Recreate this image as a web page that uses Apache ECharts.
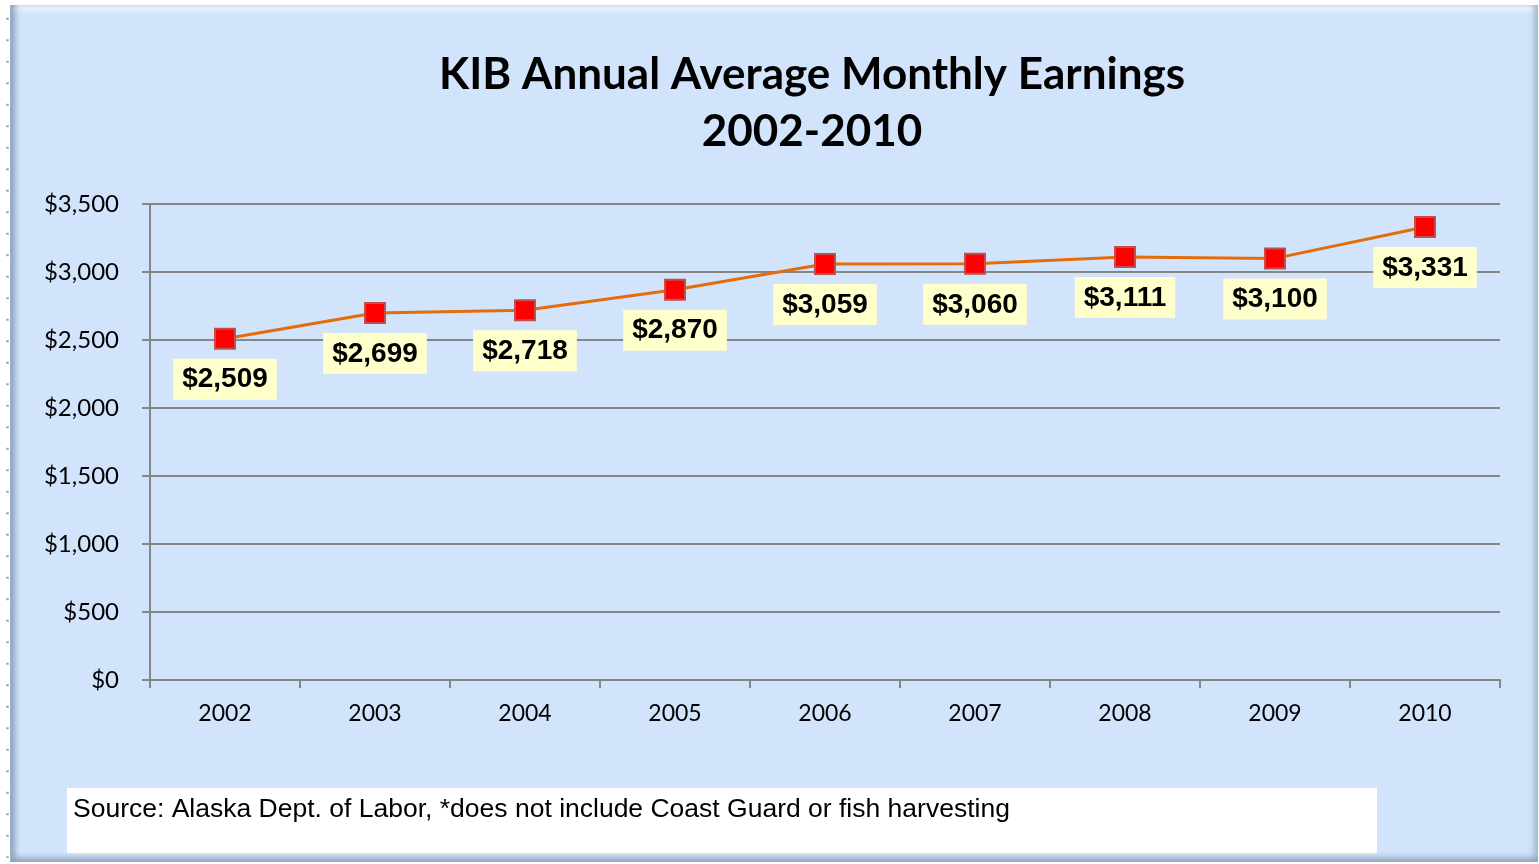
<!DOCTYPE html>
<html>
<head>
<meta charset="utf-8">
<script src="https://cdn.jsdelivr.net/npm/echarts@6/dist/echarts.min.js"></script>
<style>
  html, body { margin: 0; padding: 0; background: #ffffff; width: 1539px; height: 864px; overflow: hidden; }
  #frame {
    position: absolute; left: 10px; top: 5px; width: 1527px; height: 857px;
    background: #D2E4FB;
    box-shadow: inset 6px 0 6px -2px #8fa3bf, inset 0 -6px 6px -2px #8fa3bf, inset -6px 0 6px -2px #a8b8cf, inset 0 8px 6px -4px #ffffff;
    border-left: 1px solid #9fb0c8;
  }
  #dots {
    position: absolute; left: 6px; top: 8px; width: 3px; height: 850px;
    background-image: radial-gradient(circle, #7fa7d6 1px, transparent 1.4px);
    background-size: 3px 21.5px;
  }
  #chart { position: absolute; left: 0; top: 0; width: 1539px; height: 864px; }
</style>
</head>
<body>
<div id="dots"></div>
<div id="frame"></div>
<div id="chart"></div>
<script>
const titleText = "KIB Annual Average Monthly Earnings\n2002-2010";
const years = ["2002", "2003", "2004", "2005", "2006", "2007", "2008", "2009", "2010"];
const earnings = [2509, 2699, 2718, 2870, 3059, 3060, 3111, 3100, 3331];
const yTicks = { min: 0, max: 3500, interval: 500 };
const sourceNote = "Source: Alaska Dept. of Labor, *does not include Coast Guard or fish harvesting";

function money(v) {
  return "$" + String(v).replace(/\B(?=(\d{3})+(?!\d))/g, ",");
}

const chart = echarts.init(document.getElementById("chart"), null, { renderer: "canvas" });
chart.setOption({
  backgroundColor: "transparent",
  animation: false,
  title: {
    text: titleText,
    left: 807,
    top: 41,
    textAlign: "center",
    textStyle: {
      fontFamily: "Lato, 'Open Sans', sans-serif",
      fontWeight: "bold",
      fontSize: 44,
      lineHeight: 57,
      color: "#000000"
    }
  },
  grid: { left: 150, right: 39, top: 204, bottom: 184, containLabel: false },
  xAxis: {
    type: "category",
    data: years,
    boundaryGap: true,
    axisLine: { show: true, lineStyle: { color: "#868686", width: 2 } },
    axisTick: { show: true, length: 8, alignWithLabel: false, lineStyle: { color: "#868686", width: 2 } },
    axisLabel: { margin: 22, fontFamily: "Lato, 'Open Sans', sans-serif", fontSize: 23, color: "#000000" },
    splitLine: { show: false }
  },
  yAxis: {
    type: "value",
    min: yTicks.min,
    max: yTicks.max,
    interval: yTicks.interval,
    axisLine: { show: true, lineStyle: { color: "#868686", width: 2 } },
    axisTick: { show: true, length: 8, lineStyle: { color: "#868686", width: 2 } },
    axisLabel: { margin: 31, fontFamily: "Lato, 'Open Sans', sans-serif", fontSize: 24, color: "#000000", formatter: money },
    splitLine: { show: true, lineStyle: { color: "#868686", width: 2 } }
  },
  series: [{
    type: "line",
    data: earnings,
    symbol: "rect",
    symbolSize: 20,
    lineStyle: { color: "#E46C0A", width: 3 },
    itemStyle: { color: "#FF0000", borderColor: "#C0504D", borderWidth: 2 },
    label: {
      show: true,
      position: "bottom",
      distance: 9,
      formatter: p => money(p.value),
      fontFamily: "'Liberation Sans', Arial, sans-serif",
      fontWeight: "bold",
      fontSize: 28,
      color: "#000000",
      backgroundColor: "#FFFFCC",
      padding: [7, 9, 6, 9]
    },
    z: 3
  }],
  graphic: [
    {
      type: "rect",
      shape: { x: 67, y: 788, width: 1310, height: 65 },
      style: { fill: "#FFFFFF" },
      z: 1
    },
    {
      type: "text",
      x: 73,
      y: 810,
      style: {
        text: sourceNote,
        fill: "#000000",
        font: "26.5px 'Liberation Sans', Arial, sans-serif",
        textVerticalAlign: "middle"
      },
      z: 2
    }
  ]
});
</script>
</body>
</html>
